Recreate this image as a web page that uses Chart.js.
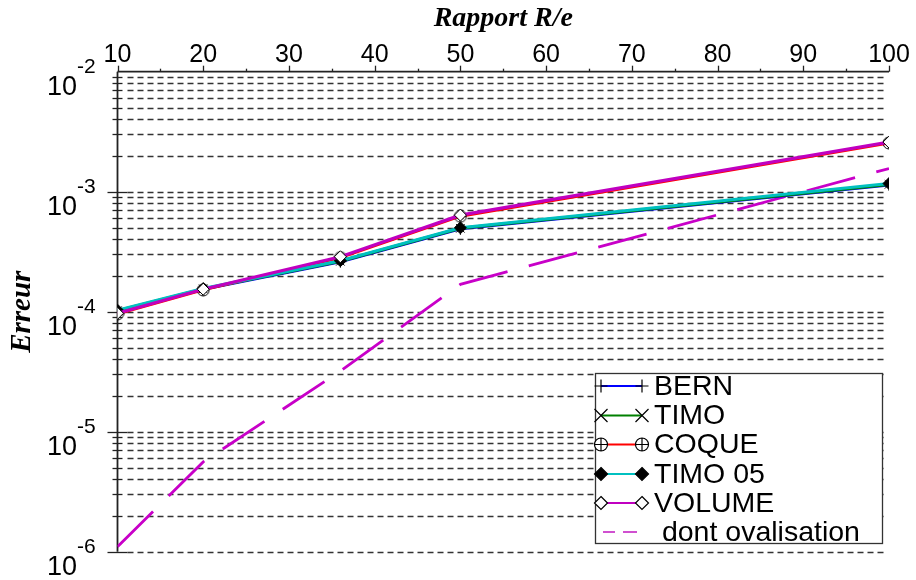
<!DOCTYPE html>
<html>
<head>
<meta charset="utf-8">
<script src="https://cdn.jsdelivr.net/npm/chart.js@4.4.0/dist/chart.umd.min.js"></script>
<style>
  html, body { margin: 0; padding: 0; background: #fff; }
  #wrap { width: 916px; height: 580px; }
</style>
</head>
<body>
<div id="wrap"><canvas id="errChart" width="916" height="580"></canvas></div>
<script>
// R/e ratios where the error was computed
const ratios = [10, 20, 36, 50, 100];

// error per model
const bern = [1.01e-4, 1.54e-4, 2.61e-4, 4.9e-4, 1.14e-3];
const timo = [1.02e-4, 1.55e-4, 2.63e-4, 4.95e-4, 1.15e-3];
const coque = [0.96e-4, 1.52e-4, 2.82e-4, 6.25e-4, 2.55e-3];
const timo05 = [1.03e-4, 1.56e-4, 2.66e-4, 5.0e-4, 1.17e-3];
const volume = [0.97e-4, 1.54e-4, 2.87e-4, 6.38e-4, 2.59e-3];
const ovalisation = [1.1e-6, 5.6e-6, 3.2e-5, 1.69e-4, 1.56e-3];

const seriesNames = ['BERN', 'TIMO', 'COQUE', 'TIMO 05', 'VOLUME', 'dont ovalisation'];
const xTicks = [10, 20, 30, 40, 50, 60, 70, 80, 90, 100];
const yDecades = [-2, -3, -4, -5, -6];

const toPts = (arr) => arr.map((v, i) => ({ x: ratios[i], y: v }));

// circle with a plus inside, used for COQUE
function makeCirclePlus(r) {
  const c = document.createElement('canvas');
  c.width = c.height = r * 2 + 2;
  const g = c.getContext('2d');
  const m = r + 1;
  g.strokeStyle = '#000';
  g.lineWidth = 1;
  g.beginPath();
  g.arc(m, m, r, 0, Math.PI * 2);
  g.moveTo(m - r, m);
  g.lineTo(m + r, m);
  g.moveTo(m, m - r);
  g.lineTo(m, m + r);
  g.stroke();
  return c;
}
const circlePlus = makeCirclePlus(6);

function drawMarker(ctx, kind, x, y, r) {
  ctx.save();
  ctx.strokeStyle = '#000';
  ctx.lineWidth = 1.2;
  ctx.beginPath();
  if (kind === 'plus') {
    ctx.moveTo(x - r, y); ctx.lineTo(x + r, y);
    ctx.moveTo(x, y - r); ctx.lineTo(x, y + r);
    ctx.stroke();
  } else if (kind === 'x') {
    ctx.moveTo(x - r, y - r); ctx.lineTo(x + r, y + r);
    ctx.moveTo(x - r, y + r); ctx.lineTo(x + r, y - r);
    ctx.stroke();
  } else if (kind === 'oplus') {
    ctx.fillStyle = '#fff';
    ctx.arc(x, y, r, 0, Math.PI * 2);
    ctx.fill();
    ctx.moveTo(x - r, y); ctx.lineTo(x + r, y);
    ctx.moveTo(x, y - r); ctx.lineTo(x, y + r);
    ctx.stroke();
  } else {
    ctx.moveTo(x, y - r); ctx.lineTo(x + r, y);
    ctx.lineTo(x, y + r); ctx.lineTo(x - r, y);
    ctx.closePath();
    ctx.fillStyle = kind === 'diamondFill' ? '#000' : '#fff';
    ctx.fill();
    ctx.stroke();
  }
  ctx.restore();
}

const axisPlugin = {
  id: 'axisDecor',
  beforeDatasetsDraw(chart) {
    const { ctx, chartArea: a, scales: { x, y } } = chart;
    ctx.save();
    // dashed horizontal grid
    ctx.strokeStyle = '#333';
    ctx.lineWidth = 1.5;
    ctx.setLineDash([6, 4]);
    for (let e = -6; e <= -3; e++) {
      for (let k = 1; k <= 9; k++) {
        const py = Math.round(y.getPixelForValue(k * Math.pow(10, e))) + 0.5;
        ctx.beginPath();
        ctx.moveTo(a.left + 10, py);
        ctx.lineTo(a.right - 3, py);
        ctx.stroke();
      }
    }
    ctx.setLineDash([]);
    ctx.strokeStyle = '#222';
    ctx.lineWidth = 1.8;
    // frame: top and left axes only
    ctx.beginPath();
    ctx.moveTo(a.left, a.top);
    ctx.lineTo(a.right, a.top);
    ctx.moveTo(a.left, a.top);
    ctx.lineTo(a.left, a.bottom);
    ctx.stroke();
    // y tick marks crossing the axis
    ctx.lineWidth = 1.3;
    for (let e = -6; e <= -3; e++) {
      for (let k = 1; k <= 9; k++) {
        const py = Math.round(y.getPixelForValue(k * Math.pow(10, e))) + 0.5;
        const len = k === 1 ? 10 : 5;
        ctx.beginPath();
        ctx.moveTo(a.left - len, py);
        ctx.lineTo(a.left + len, py);
        ctx.stroke();
      }
    }
    // x tick marks above the top axis
    for (let v = 10; v <= 100; v += 5) {
      const px = Math.round(x.getPixelForValue(v)) + 0.5;
      const len = v % 10 === 0 ? 6 : 3;
      ctx.beginPath();
      ctx.moveTo(px, a.top);
      ctx.lineTo(px, a.top - len);
      ctx.stroke();
    }
    ctx.restore();
  },
  afterDraw(chart) {
    const { ctx, scales: { y } } = chart;
    ctx.save();
    ctx.fillStyle = '#000';
    // decade labels 10^n
    yDecades.forEach((e) => {
      const py = y.getPixelForValue(Math.pow(10, e));
      ctx.font = '27px "Liberation Sans", Arial, sans-serif';
      ctx.textAlign = 'right';
      ctx.textBaseline = 'alphabetic';
      ctx.fillText('10', 77, py + 23.5);
      ctx.font = '21px "Liberation Sans", Arial, sans-serif';
      ctx.textAlign = 'left';
      ctx.fillText('-' + Math.abs(e), 77, py + 1);
    });

    // legend box
    const bx = 595.5, by = 373.5, bw = 287, bh = 170;
    ctx.fillStyle = '#fff';
    ctx.fillRect(bx, by, bw, bh);
    ctx.strokeStyle = '#333';
    ctx.lineWidth = 1.3;
    ctx.strokeRect(bx, by, bw, bh);
    const ds = chart.data.datasets;
    const kinds = ['plus', 'x', 'oplus', 'diamondFill', 'diamond'];
    const rowY = [386, 415.5, 444.5, 474, 503, 532];
    const x0 = 601, x1 = 642;
    for (let i = 0; i < 6; i++) {
      const yy = rowY[i];
      ctx.save();
      if (i < 5) {
        ctx.strokeStyle = ds[i].borderColor;
        ctx.lineWidth = 1.8;
        ctx.beginPath();
        ctx.moveTo(x0, yy);
        ctx.lineTo(x1, yy);
        ctx.stroke();
        drawMarker(ctx, kinds[i], x0, yy, 6.5);
        drawMarker(ctx, kinds[i], x1, yy, 6.5);
      } else {
        ctx.strokeStyle = '#d050d0';
        ctx.lineWidth = 2;
        ctx.beginPath();
        ctx.moveTo(603, yy); ctx.lineTo(615, yy);
        ctx.moveTo(623, yy); ctx.lineTo(637, yy);
        ctx.stroke();
      }
      ctx.restore();
      ctx.fillStyle = '#000';
      ctx.font = '28.5px "Liberation Sans", Arial, sans-serif';
      ctx.textAlign = 'left';
      ctx.textBaseline = 'middle';
      ctx.fillText(i === 5 ? ' ' + seriesNames[i] : seriesNames[i], 654, yy + 1);
    }
    ctx.restore();
  },
};

const ctx = document.getElementById('errChart').getContext('2d');
new Chart(ctx, {
  type: 'line',
  data: {
    datasets: [
      {
        label: seriesNames[0],
        data: toPts(bern),
        borderColor: '#0000ff',
        borderWidth: 3,
        pointStyle: 'cross',
        pointRadius: 6,
        pointBorderColor: '#000',
        pointBorderWidth: 1,
        order: 4,
      },
      {
        label: seriesNames[1],
        data: toPts(timo),
        borderColor: '#008000',
        borderWidth: 3,
        pointStyle: 'crossRot',
        pointRadius: 6,
        pointBorderColor: '#000',
        pointBorderWidth: 1,
        order: 3,
      },
      {
        label: seriesNames[2],
        data: toPts(coque),
        borderColor: '#ff0000',
        borderWidth: 3,
        pointStyle: circlePlus,
        pointRadius: 6,
        order: 2,
      },
      {
        label: seriesNames[3],
        data: toPts(timo05),
        borderColor: '#00c0c0',
        borderWidth: 3,
        pointStyle: 'rectRot',
        pointRadius: 6,
        pointBackgroundColor: '#000',
        pointBorderColor: '#000',
        pointBorderWidth: 1,
        order: 1,
      },
      {
        label: seriesNames[4],
        data: toPts(volume),
        borderColor: '#c000c0',
        borderWidth: 3.2,
        pointStyle: 'rectRot',
        pointRadius: 6,
        pointBackgroundColor: '#fff',
        pointBorderColor: '#000',
        pointBorderWidth: 1,
        order: 0,
      },
      {
        label: seriesNames[5],
        data: toPts(ovalisation),
        borderColor: '#c800c8',
        borderWidth: 2.8,
        borderDash: [50, 22],
        pointRadius: 0,
        order: 5,
      },
    ],
  },
  options: {
    responsive: false,
    animation: false,
    devicePixelRatio: 1,
    layout: { padding: { top: 0, left: 0, right: 27, bottom: 28.3 } },
    plugins: {
      legend: { display: false },
      tooltip: { enabled: false },
    },
    scales: {
      x: {
        type: 'linear',
        position: 'top',
        min: 10,
        max: 100,
        afterBuildTicks: (s) => { s.ticks = xTicks.map((v) => ({ value: v })); },
        afterFit: (s) => { s.height = 71.7; },
        ticks: {
          font: { family: 'Liberation Sans', size: 25 },
          color: '#000',
          padding: 2,
          maxRotation: 0,
          autoSkip: false,
        },
        grid: { display: false, drawTicks: false },
        border: { display: false },
        title: {
          display: true,
          text: 'Rapport R/e',
          font: { family: 'Liberation Serif', size: 28, style: 'italic', weight: 'bold' },
          color: '#000',
          padding: { top: 2, bottom: 0 },
        },
      },
      y: {
        type: 'logarithmic',
        min: 1e-6,
        max: 1e-2,
        afterFit: (s) => { s.width = 117.5; },
        ticks: { display: false },
        grid: { display: false, drawTicks: false },
        border: { display: false },
        title: {
          display: true,
          text: 'Erreur',
          font: { family: 'Liberation Serif', size: 29, style: 'italic', weight: 'bold' },
          color: '#000',
          padding: { top: 5, bottom: 0 },
        },
      },
    },
  },
  plugins: [axisPlugin],
});
</script>
</body>
</html>
